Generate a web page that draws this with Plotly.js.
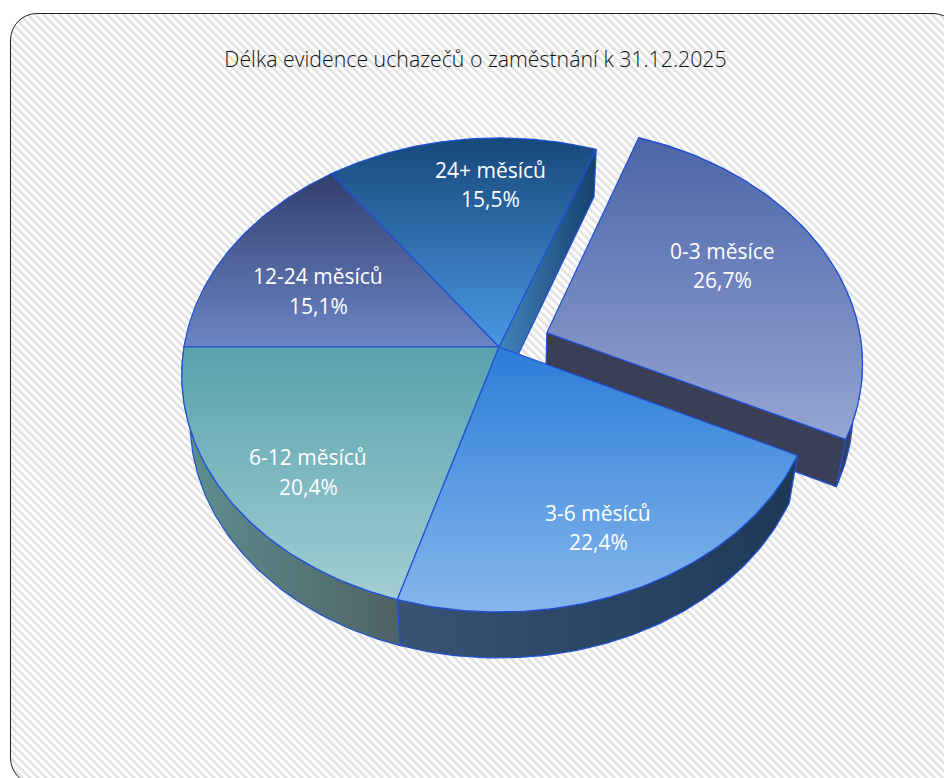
<!DOCTYPE html>
<html>
<head>
<meta charset="utf-8">
<script src="https://cdn.plot.ly/plotly-3.0.1.min.js"></script>
<style>
html,body{margin:0;padding:0;width:944px;height:778px;overflow:hidden;background:#fff}
#frame{position:absolute;left:10px;top:13px;width:950px;height:772px;box-sizing:border-box;border:1.3px solid #222;border-radius:27px;
background:repeating-linear-gradient(45deg,#e4e4e4 0,#e4e4e4 1.9px,#ffffff 2.9px,#ffffff 4.7px,#e4e4e4 5.66px)}
#chart{position:absolute;left:0;top:0;width:944px;height:778px}
</style>
</head>
<body>
<div id="frame"></div>
<div id="chart"></div>
<script>
const categories = ['0-3 měsíce','3-6 měsíců','6-12 měsíců','12-24 měsíců','24+ měsíců'];
const shares = [26.7,22.4,20.4,15.1,15.5];
const shareLabels = ['26,7%','22,4%','20,4%','15,1%','15,5%'];
const exploded = [0.165,0,0,0,0];
const topColors = [['#4c65a8','#95a5d3'],['#2b7dd7','#86b6ed'],['#57a2ad','#a3cdd3'],['#323f6e','#6c85c5'],['#17497b','#4a97e3']];
const wallColors = [['#3a3f55','#3a3f55'],['#3a5275','#1e3957'],['#5f8f8e','#4e6266'],['#3a3f55','#3a3f55'],['#4284bd','#14406b']];
const labelX = [722,598,308,318,490];
const nameY = [251,513,457,276,170];
const valueY = [280,542,487,306,199];

const cx=499, cy=347, R=315, B=233.7, K=0.118, D=48.8, M=0.0265, START=20.05, EDGE='#1f50d8';
const total = shares.reduce((a,b)=>a+b,0);
const rad = d => d*Math.PI/180;

function proj(px,py,z){
  const s = 1/(1-K*py+M*z);
  return [cx+R*px*s, cy+(B*py+D*z)*s];
}
function geom(i){
  let a0=START;
  for(let k=0;k<i;k++) a0+=shares[k]/total*360;
  const a1=a0+shares[i]/total*360, mid=(a0+a1)/2, e=exploded[i];
  return {a0,a1,ox:e*Math.sin(rad(mid)),oy:-e*Math.cos(rad(mid))};
}
function rim(g,from,to,z){
  const out=[], n=Math.max(2,Math.ceil(Math.abs(to-from)));
  for(let j=0;j<=n;j++){
    const a=rad(from+(to-from)*j/n);
    out.push(proj(g.ox+Math.sin(a),g.oy-Math.cos(a),z));
  }
  return out;
}
function poly(pts,colors,type,name){
  const xs=pts.map(p=>p[0]).concat([pts[0][0]]), ys=pts.map(p=>p[1]).concat([pts[0][1]]);
  const scale = type==='vertical' ? [[0,colors[1]],[1,colors[0]]] : [[0,colors[0]],[1,colors[1]]];
  return {type:'scatter',mode:'lines',x:xs,y:ys,name,fill:'toself',hoverinfo:'skip',
    fillgradient:{type,colorscale:scale},
    line:{color:EDGE,width:1.2},showlegend:false};
}
function topFace(i){
  const g=geom(i);
  return poly([proj(g.ox,g.oy,0)].concat(rim(g,g.a0,g.a1,0)),topColors[i],'vertical',categories[i]);
}
function wall(i){
  const g=geom(i);
  return poly(rim(g,g.a0,g.a1,0).concat(rim(g,g.a1,g.a0,1)),wallColors[i],'horizontal',categories[i]+' plášť');
}
function cut(i,angle){
  const g=geom(i), a=rad(angle);
  const rx=g.ox+Math.sin(a), ry=g.oy-Math.cos(a);
  return poly([proj(g.ox,g.oy,0),proj(rx,ry,0),proj(rx,ry,1),proj(g.ox,g.oy,1)],wallColors[i],'horizontal',categories[i]+' řez');
}
const g0=geom(0), g4=geom(4);
const traces=[wall(0),cut(0,g0.a1),cut(4,g4.a1),wall(2),wall(1),
  topFace(0),topFace(4),topFace(3),topFace(2),topFace(1)];

const labelFont={family:'Open Sans, sans-serif',size:21,color:'#ffffff',weight:400};
const annotations=categories.map((c,i)=>({x:labelX[i],y:nameY[i],xref:'x',yref:'y',showarrow:false,text:c,font:labelFont}))
  .concat(shareLabels.map((t,i)=>({x:labelX[i],y:valueY[i],xref:'x',yref:'y',showarrow:false,text:t,font:labelFont})));

Plotly.newPlot('chart',traces,{
  width:944,height:778,margin:{l:0,r:0,t:0,b:0},
  paper_bgcolor:'rgba(0,0,0,0)',plot_bgcolor:'rgba(0,0,0,0)',
  showlegend:false,
  title:{text:'Délka evidence uchazečů o zaměstnání k 31.12.2025',x:475.5/944,xanchor:'center',y:1-60/778,yanchor:'middle',
    font:{family:'Open Sans, sans-serif',size:21.3,color:'#111111',weight:300}},
  xaxis:{range:[0,944],visible:false,fixedrange:true},
  yaxis:{range:[778,0],visible:false,fixedrange:true},
  annotations
},{displayModeBar:false,staticPlot:true});
</script>
</body>
</html>
